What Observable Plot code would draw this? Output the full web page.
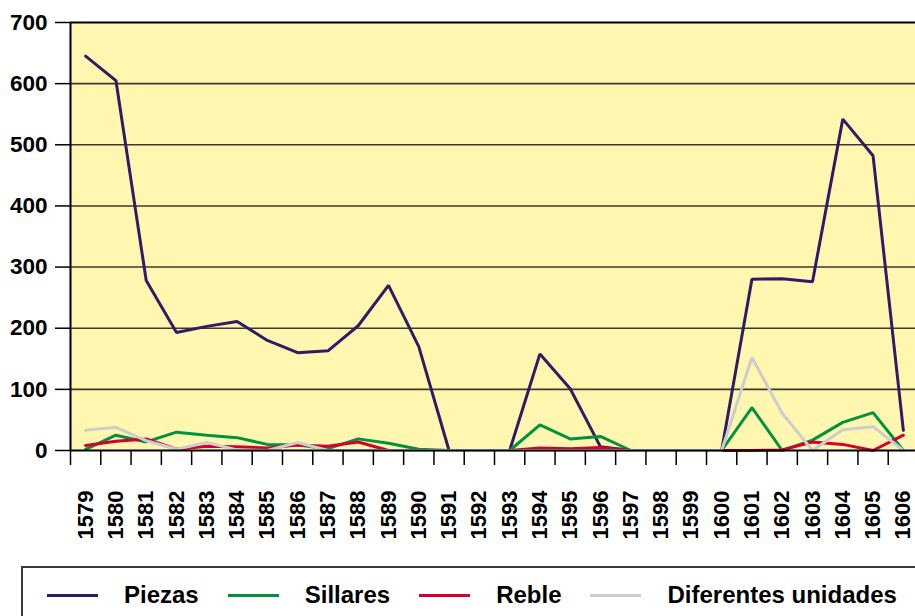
<!DOCTYPE html>
<html>
<head>
<meta charset="utf-8">
<script src="https://cdn.jsdelivr.net/npm/d3@7"></script>
<script src="https://cdn.jsdelivr.net/npm/@observablehq/plot@0.6"></script>
<style>
  html, body { margin: 0; padding: 0; background: #ffffff; overflow: hidden; width: 915px; height: 616px; }
  #wrap { position: relative; width: 915px; height: 616px; }
  #legend {
    position: absolute; left: 21px; top: 566px; width: 920px; height: 70px;
    border: 2px solid #3a3a3a; box-sizing: border-box;
    display: flex; align-items: flex-start; padding-left: 24px; padding-top: 10px;
    font-family: "Liberation Sans", Arial, sans-serif; font-weight: bold; font-size: 24px; color: #000;
  }
  .item { display: flex; align-items: center; height: 34px; }
  .swatch { width: 51px; height: 3px; margin-right: 26px; }
  .lab { margin-right: 29px; white-space: nowrap; }
</style>
</head>
<body>
<div id="wrap">
  <div id="chart"></div>
  <div id="legend"></div>
</div>
<script>
const years = [1579,1580,1581,1582,1583,1584,1585,1586,1587,1588,1589,1590,1591,1592,1593,1594,1595,1596,1597,1598,1599,1600,1601,1602,1603,1604,1605,1606];
const piezas   = [645,605,278,193,203,211,180,160,163,204,270,170,0,0,0,158,101,6,0,0,0,0,280,281,276,542,482,33];
const sillares = [2,25,14,30,25,21,10,9,3,19,12,2,0,0,0,42,19,23,0,0,0,0,70,0,17,46,62,0];
const reble    = [8,15,19,2,7,6,4,9,7,14,0,0,0,0,0,4,3,5,0,0,0,0,0,1,14,10,0,25];
const diferentes = [33,38,16,2,13,1,0,13,0,0,0,0,0,0,0,0,0,0,0,0,0,0,152,61,0,34,39,0];
const seriesNames = ["Piezas","Sillares","Reble","Diferentes unidades"];
const seriesColors = ["#2f1b66","#00923f","#d5002b","#cdcdcd"];
const yTicks = [0,100,200,300,400,500,600,700];

const seriesValues = [piezas, sillares, reble, diferentes];
const table = seriesNames.flatMap((name, i) => years.map((yr, j) => ({series: name, year: yr, value: seriesValues[i][j]})));
const boundaries = [...years.map(y => y - 0.5), years[years.length - 1] + 0.5];

const lines = seriesNames.map((name, i) =>
  Plot.lineY(table.filter(d => d.series === name), {x: "year", y: "value", stroke: seriesColors[i], strokeWidth: 3, strokeLinejoin: "miter"})
);

const chart = Plot.plot({
  width: 915,
  height: 560,
  marginLeft: 70,
  marginRight: -3,
  marginTop: 22,
  marginBottom: 110,
  x: {domain: [years[0] - 0.5, years[years.length - 1] + 0.5]},
  y: {domain: [0, 700]},
  style: {fontFamily: "'Liberation Sans', Arial, sans-serif", fontWeight: "bold", color: "#000", background: "transparent", overflow: "visible"},
  marks: [
    Plot.frame({fill: "#fff7b0", stroke: "none"}),
    Plot.gridY(yTicks.filter(v => v > 0 && v < 700), {stroke: "#3a3a30", strokeOpacity: 1, strokeWidth: 1.6}),
    Plot.ruleY([700], {stroke: "#000", strokeWidth: 2}),
    ...lines,
    Plot.ruleY([0], {stroke: "#000", strokeWidth: 2}),
    Plot.ruleX([years[0] - 0.5], {stroke: "#000", strokeWidth: 2}),
    Plot.axisY(yTicks, {tickSize: 15, tickPadding: 8, fontSize: 22.5, label: null, stroke: "#000", strokeWidth: 1.5}),
    Plot.axisX(boundaries, {tickSize: 15, tickFormat: () => "", label: null, stroke: "#000", strokeWidth: 1.5}),
    Plot.axisX(years, {tickSize: 0, tickRotate: -90, tickPadding: 40, fontSize: 22, label: null, tickFormat: d => String(d)})
  ]
});
document.getElementById("chart").appendChild(chart);

const legend = document.getElementById("legend");
seriesNames.forEach((name, i) => {
  const item = document.createElement("div");
  item.className = "item";
  const sw = document.createElement("div");
  sw.className = "swatch";
  sw.style.background = seriesColors[i];
  const lab = document.createElement("div");
  lab.className = "lab";
  lab.textContent = name;
  item.appendChild(sw);
  item.appendChild(lab);
  legend.appendChild(item);
});
</script>
</body>
</html>
